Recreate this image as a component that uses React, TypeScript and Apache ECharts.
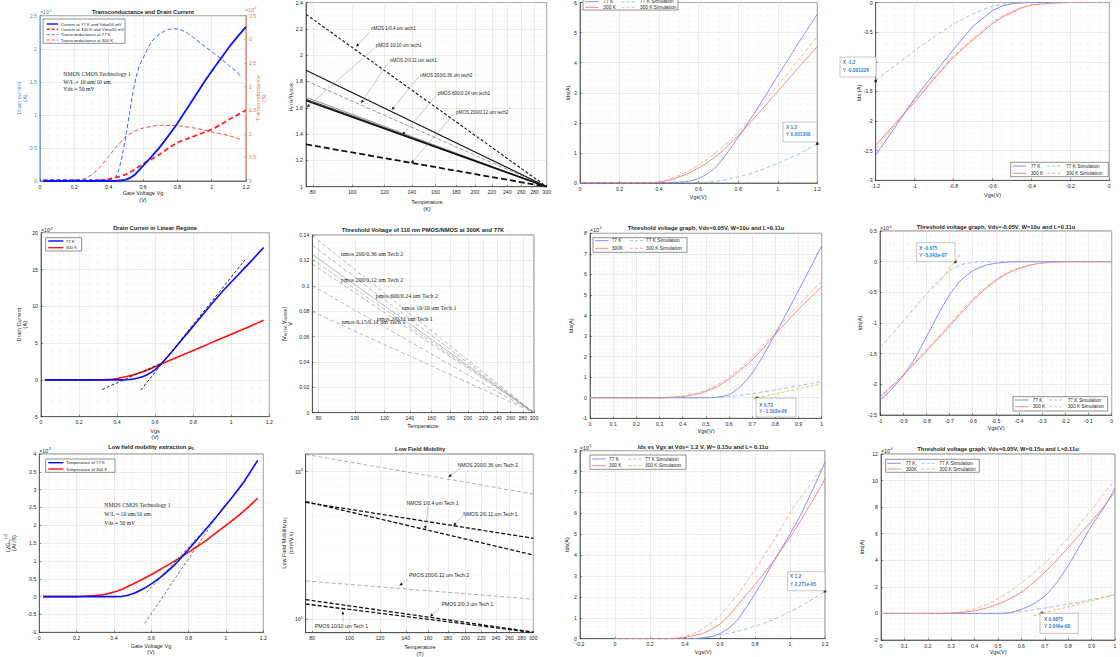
import React, { useEffect, useRef } from "react";
import * as echarts from "echarts";

const SANS = "'Liberation Sans', Arial, Helvetica, sans-serif";
const SERIF = "'Liberation Serif', 'Times New Roman', serif";
const AX = "#262626";
const TIP_BLUE = "#2f7fe0";
const AXBLUE = "#3f8ed2";
const AXORANGE = "#e0784f";
const TICK_FS = 5.2;
const LAB_FS = 5.6;
const TITLE_FS = 5.8;

// ---------- shared ticks ----------
const TEMP_TICKS = [80, 100, 120, 140, 160, 180, 200, 220, 240, 260, 280, 300];
const P10_Y_TICKS = [100, 1000];
const P10_MINOR = [200, 300, 400, 500, 600, 700, 800, 900];

// ---------- Panel 1: Transconductance and Drain Current ----------
const p1Vg = [0.02, 0.1, 0.2, 0.3, 0.35, 0.4, 0.45, 0.5, 0.55, 0.6, 0.65, 0.7, 0.75, 0.8, 0.85, 0.9, 0.95, 1.0, 1.05, 1.1, 1.15, 1.2];
const p1Id77 = [0, 0, 0, 0, 0, 0, 0.004, 0.02, 0.09, 0.23, 0.37, 0.52, 0.69, 0.87, 1.07, 1.27, 1.47, 1.66, 1.84, 2.02, 2.18, 2.33];
const p1Id300 = [0, 0, 0, 0, 0.01, 0.03, 0.06, 0.1, 0.17, 0.26, 0.33, 0.41, 0.5, 0.58, 0.63, 0.68, 0.73, 0.78, 0.85, 0.93, 1.0, 1.07];
const p1GmVg77 = [0.02, 0.1, 0.2, 0.3, 0.4, 0.44, 0.46, 0.48, 0.5, 0.52, 0.54, 0.56, 0.58, 0.6, 0.65, 0.7, 0.75, 0.8, 0.85, 0.9, 0.95, 1.0, 1.05, 1.1, 1.15, 1.17];
const p1Gm77 = [0.03, 0.03, 0.03, 0.03, 0.03, 0.08, 0.25, 0.55, 0.95, 1.4, 1.85, 2.2, 2.45, 2.6, 2.95, 3.12, 3.21, 3.22, 3.15, 3.02, 2.88, 2.74, 2.6, 2.45, 2.3, 2.2];
const p1GmVg300 = [0.02, 0.1, 0.2, 0.25, 0.3, 0.35, 0.4, 0.45, 0.5, 0.55, 0.6, 0.7, 0.8, 0.9, 1.0, 1.1, 1.17];
const p1Gm300 = [0.02, 0.02, 0.02, 0.04, 0.13, 0.3, 0.52, 0.75, 0.94, 1.05, 1.12, 1.18, 1.17, 1.12, 1.04, 0.96, 0.88];

// ---------- Panel 2: mobility ratio ----------
const p2T = [77, 300];
const p2Start = [2.31, 1.885, 1.805, 1.68, 1.665, 1.655, 1.322];
const p2End = [1, 1, 1, 1, 1, 1, 1];

// ---------- Panel 3 ----------
const p3Vgs = [0, 0.1, 0.2, 0.3, 0.35, 0.4, 0.45, 0.5, 0.55, 0.6, 0.65, 0.7, 0.75, 0.8, 0.85, 0.9, 0.95, 1.0, 1.05, 1.1, 1.15, 1.2];
const p3I77 = [0, 0, 0, 0, 0, 0, 0.005, 0.02, 0.06, 0.15, 0.33, 0.62, 1.05, 1.51, 2.0, 2.51, 3.03, 3.56, 4.08, 4.61, 5.11, 5.61];
const p3I300 = [0, 0, 0, 0, 0.01, 0.03, 0.09, 0.2, 0.33, 0.5, 0.71, 0.95, 1.25, 1.57, 1.93, 2.3, 2.67, 3.05, 3.42, 3.8, 4.17, 4.54];
const p3I77Sim = [0, 0, 0, 0, 0, 0, 0, 0, 0, 0.005, 0.03, 0.07, 0.13, 0.2, 0.29, 0.4, 0.52, 0.65, 0.8, 0.95, 1.12, 1.306];
const p3I300Sim = [0, 0, 0, 0, 0.01, 0.04, 0.12, 0.25, 0.4, 0.6, 0.82, 1.08, 1.36, 1.68, 2.05, 2.45, 2.85, 3.25, 3.65, 4.05, 4.46, 4.87];

// ---------- Panel 4 ----------
const p4Vgs = [-1.2, -1.1, -1.0, -0.9, -0.8, -0.7, -0.6, -0.55, -0.5, -0.45, -0.4, -0.3, -0.2, -0.1, 0];
const p4I77 = [-2.575, -2.1, -1.62, -1.2, -0.79, -0.4, -0.135, -0.06, -0.02, -0.005, 0, 0, 0, 0, 0];
const p4I300 = [-2.41, -2.04, -1.68, -1.29, -0.92, -0.63, -0.36, -0.25, -0.17, -0.09, -0.04, -0.01, 0, 0, 0];
const p4I77Sim = [-1.317, -1.06, -0.81, -0.58, -0.36, -0.19, -0.06, -0.03, -0.01, 0, 0, 0, 0, 0, 0];
const p4I300Sim = [-2.47, -2.06, -1.65, -1.27, -0.9, -0.6, -0.33, -0.23, -0.15, -0.08, -0.035, -0.01, 0, 0, 0];

// ---------- Panel 5: Drain current linear regime ----------
const p5Vgs = [0.02, 0.1, 0.2, 0.3, 0.35, 0.4, 0.45, 0.5, 0.55, 0.6, 0.65, 0.7, 0.75, 0.8, 0.85, 0.9, 0.95, 1.0, 1.05, 1.1, 1.17];
const p5I77 = [0, 0, 0, 0, 0, 0, 0.02, 0.2, 0.6, 1.4, 2.7, 4.2, 5.75, 7.3, 8.85, 10.4, 11.9, 13.3, 14.65, 16.0, 18.0];
const p5I300 = [0, 0, 0, 0, 0.05, 0.2, 0.45, 0.8, 1.25, 1.8, 2.35, 2.9, 3.45, 4.0, 4.55, 5.1, 5.65, 6.2, 6.75, 7.3, 8.1];
const p5Tan1X = [0.322, 0.625];
const p5Tan1Y = [-1.31, 2.2];
const p5Tan2X = [0.524, 1.072];
const p5Tan2Y = [-1.4, 16.3];

// ---------- Panel 6: threshold voltage shift ----------
const p6T = [77, 300];
const p6Start = [0.1395, 0.132, 0.1248, 0.1208, 0.117, 0.1, 0.0796];
const p6End = [0, 0, 0, 0, 0, 0, 0];

// ---------- Panel 7 ----------
const p7Vgs = [0, 0.1, 0.2, 0.3, 0.35, 0.4, 0.45, 0.5, 0.55, 0.6, 0.65, 0.7, 0.75, 0.8, 0.85, 0.9, 0.95, 1.0];
const p7I77 = [0, 0, 0, 0, 0, 0, 0, 0.005, 0.03, 0.15, 0.55, 1.2, 2.1, 3.1, 4.15, 5.22, 6.3, 7.39];
const p7I300 = [0, 0, 0, 0, 0.02, 0.06, 0.15, 0.3, 0.55, 0.9, 1.35, 1.85, 2.45, 3.1, 3.7, 4.3, 4.85, 5.4];
const p7I77Sim = [0, 0, 0, 0, 0, 0, 0, 0, 0.01, 0.05, 0.12, 0.2, 0.29, 0.38, 0.48, 0.58, 0.69, 0.8];
const p7I300Sim = [0, 0, 0, 0, 0.03, 0.08, 0.18, 0.36, 0.63, 1.0, 1.45, 1.98, 2.6, 3.25, 3.88, 4.5, 5.1, 5.65];
const p7TanX = [0.7, 1.0];
const p7TanY = [-0.06, 0.68];

// ---------- Panel 8 ----------
const p8Vgs = [-1, -0.95, -0.9, -0.85, -0.8, -0.75, -0.7, -0.65, -0.6, -0.55, -0.5, -0.45, -0.4, -0.35, -0.3, -0.25, -0.2, -0.1, 0];
const p8I77 = [-2.26, -2.08, -1.86, -1.58, -1.23, -0.87, -0.54, -0.3, -0.15, -0.065, -0.025, -0.008, 0, 0, 0, 0, 0, 0, 0];
const p8I300 = [-2.2, -2.03, -1.85, -1.66, -1.46, -1.26, -1.05, -0.84, -0.64, -0.46, -0.31, -0.19, -0.11, -0.055, -0.022, -0.008, 0, 0, 0];
const p8I77Sim = [-1.4, -1.19, -0.97, -0.75, -0.53, -0.32, -0.15, -0.05, -0.012, 0, 0, 0, 0, 0, 0, 0, 0, 0, 0];
const p8I300Sim = [-2.23, -2.04, -1.84, -1.64, -1.43, -1.23, -1.02, -0.81, -0.61, -0.44, -0.29, -0.18, -0.1, -0.05, -0.02, -0.007, 0, 0, 0];
const p8TanX = [-0.755, -0.652];
const p8TanY = [-0.38, 0.12];

// ---------- Panel 9: low field mobility extraction ----------
const p9Vg = [0.02, 0.1, 0.2, 0.3, 0.35, 0.4, 0.45, 0.5, 0.55, 0.6, 0.65, 0.7, 0.75, 0.8, 0.85, 0.9, 0.95, 1.0, 1.05, 1.1, 1.17];
const p9Y77 = [0, 0, 0, 0, 0, 0, 0.01, 0.08, 0.2, 0.36, 0.55, 0.77, 1.03, 1.33, 1.63, 1.94, 2.25, 2.57, 2.9, 3.25, 3.82];
const p9Y300 = [0, 0, 0, 0.03, 0.06, 0.13, 0.22, 0.35, 0.48, 0.62, 0.77, 0.92, 1.08, 1.25, 1.42, 1.6, 1.8, 2.0, 2.2, 2.42, 2.76];
const p9TanAX = [0.565, 1.0];
const p9TanAY = [-0.75, 2.62];
const p9TanBX = [0.575, 0.9];
const p9TanBY = [0.12, 1.95];

// ---------- Panel 10: Low Field Mobility (log-log) ----------
const p10T = [77, 300];
const p10Start = [1310, 628, 620, 182, 136, 127];
const p10End = [706, 273, 354, 137, 82, 81.5];

// ---------- Panel 11 ----------
const p11Vgs = [0, 0.1, 0.2, 0.3, 0.35, 0.4, 0.45, 0.5, 0.55, 0.6, 0.65, 0.7, 0.75, 0.8, 0.85, 0.9, 0.95, 1.0, 1.05, 1.1, 1.15, 1.2];
const p11I77 = [0, 0, 0, 0, 0, 0, 0, 0.03, 0.1, 0.25, 0.5, 0.9, 1.5, 2.15, 2.85, 3.6, 4.3, 5.0, 5.75, 6.6, 7.5, 8.45];
const p11I300 = [0, 0, 0, 0, 0.02, 0.06, 0.14, 0.25, 0.45, 0.7, 1.1, 1.6, 2.1, 2.6, 3.1, 3.65, 4.25, 4.85, 5.5, 6.2, 6.9, 7.65];
const p11I77Sim = [0, 0, 0, 0, 0, 0, 0, 0.05, 0.1, 0.18, 0.26, 0.35, 0.47, 0.6, 0.74, 0.9, 1.08, 1.3, 1.5, 1.75, 2.0, 2.271];
const p11I300Sim = [0, 0, 0, 0, 0.03, 0.1, 0.25, 0.45, 0.75, 1.1, 1.6, 2.1, 2.7, 3.3, 3.95, 4.6, 5.3, 6.05, 6.65, 7.2, 7.8, 8.35];

// ---------- Panel 12 ----------
const p12Vgs = [0, 0.1, 0.2, 0.3, 0.35, 0.4, 0.45, 0.5, 0.55, 0.6, 0.65, 0.7, 0.75, 0.8, 0.85, 0.9, 0.95, 1.0];
const p12I77 = [0, 0, 0, 0, 0, 0, 0, 0, 0.05, 0.3, 0.7, 1.3, 2.3, 3.6, 5.1, 6.6, 7.9, 9.4];
const p12I300 = [0, 0, 0, 0.02, 0.08, 0.2, 0.4, 0.7, 1.1, 1.6, 2.3, 3.1, 4.0, 4.95, 5.95, 6.95, 8.0, 9.15];
const p12I77Sim = [0, 0, 0, 0, 0, 0, 0, 0, 0.05, 0.15, 0.27, 0.4, 0.55, 0.7, 0.87, 1.05, 1.22, 1.4];
const p12I300Sim = [0, 0, 0, 0.03, 0.12, 0.35, 0.68, 1.1, 1.65, 2.3, 3.0, 3.8, 4.7, 5.7, 6.75, 7.8, 8.95, 10.1];
const p12TanX = [0.651, 1.0];
const p12TanY = [-0.18, 1.42];

const zip = (xs: number[], ys: number[]) => xs.map((x, i) => [x, ys[i]]);

function buildOption() {
  const grids: any[] = [];
  const xAxis: any[] = [];
  const yAxis: any[] = [];
  const series: any[] = [];
  const els: any[] = [];

  const addGrid = (r: number[]) => {
    grids.push({ left: r[0], top: r[1], width: r[2] - r[0], height: r[3] - r[1], show: true, borderColor: AX, borderWidth: 0.6, backgroundColor: "#ffffff", containLabel: false });
    return grids.length - 1;
  };
  const base = (color: string) => ({
    axisLine: { show: true, onZero: false, lineStyle: { color, width: 0.6 } },
    axisTick: { show: true, inside: true, length: 2, lineStyle: { color, width: 0.5 } },
    axisLabel: { fontSize: TICK_FS, color, fontFamily: SANS, margin: 3 },
    splitLine: { show: true, lineStyle: { color: "#d9d9d9", width: 0.5 } },
    minorSplitLine: { show: true, lineStyle: { color: "#dedede", width: 0.4, type: [1, 1.2] } },
  });
  const addX = (gi: number, min: number, max: number, interval: number, minorN = 5) => {
    xAxis.push({ type: "value", gridIndex: gi, position: "bottom", min, max, interval, ...base(AX), minorTick: { show: false, splitNumber: minorN } });
    return xAxis.length - 1;
  };
  const addY = (gi: number, min: number, max: number, interval: number, minorN = 5, color = AX, pos = "left", grid = true) => {
    const b: any = base(color);
    if (!grid) {
      b.splitLine = { show: false };
      b.minorSplitLine = { show: false };
    }
    yAxis.push({ type: "value", gridIndex: gi, position: pos, min, max, interval, ...b, minorTick: { show: false, splitNumber: minorN } });
    return yAxis.length - 1;
  };
  const addLogX = (gi: number) => {
    const b: any = base(AX);
    xAxis.push({
      type: "log", logBase: 10, gridIndex: gi, position: "bottom", min: 77, max: 300, ...b,
      axisLabel: { ...b.axisLabel, customValues: TEMP_TICKS, formatter: (v: number) => String(Math.round(v)) },
      axisTick: { ...b.axisTick, customValues: TEMP_TICKS },
      minorSplitLine: { show: false },
    });
    return xAxis.length - 1;
  };
  const line = (xi: number, yi: number, data: number[][], color: string, width: number, type: any = "solid", smooth: any = 0.2, extra: any = {}) => {
    series.push({ type: "line", xAxisIndex: xi, yAxisIndex: yi, data, symbol: "none", showSymbol: false, smooth, lineStyle: { color, width, type }, silent: true, z: 3, ...extra });
  };
  const dot = (xi: number, yi: number, x: number, y: number) => {
    series.push({ type: "scatter", xAxisIndex: xi, yAxisIndex: yi, data: [[x, y]], symbol: "rect", symbolSize: 2.6, itemStyle: { color: "#111" }, silent: true, z: 6 });
  };

  const txt = (x: number, y: number, text: string, o: any = {}) => {
    els.push({
      type: "text", x, y, rotation: o.rot || 0, silent: true, z: 100,
      style: {
        text, fill: o.color || AX, fontSize: o.size || LAB_FS, fontFamily: o.font || SANS, fontWeight: o.bold ? "bold" : "normal",
        align: o.align || "center", verticalAlign: o.va || "middle", textAlign: o.align || "center", textVerticalAlign: o.va || "middle",
        lineHeight: o.lh, rich: o.rich,
      },
    });
  };
  const rect = (x: number, y: number, w: number, h: number, stroke = AX, fill = "#fff", lw = 0.5) => {
    els.push({ type: "rect", silent: true, z: 95, shape: { x, y, width: w, height: h }, style: { fill, stroke, lineWidth: lw } });
  };
  const seg = (x1: number, y1: number, x2: number, y2: number, stroke: string, lw: number, dash?: number[]) => {
    els.push({ type: "line", silent: true, z: 96, shape: { x1, y1, x2, y2 }, style: { stroke, lineWidth: lw, lineDash: dash } });
  };
  const arrow = (x1: number, y1: number, x2: number, y2: number) => {
    const a = Math.atan2(y2 - y1, x2 - x1);
    const L = 3.4, W = 1.4;
    const bx = x2 - L * Math.cos(a), by = y2 - L * Math.sin(a);
    seg(x1, y1, bx, by, "#8c8c8c", 0.5);
    els.push({ type: "polygon", silent: true, z: 97, shape: { points: [[x2, y2], [bx + W * Math.sin(a), by - W * Math.cos(a)], [bx - W * Math.sin(a), by + W * Math.cos(a)]] }, style: { fill: "#111" } });
  };
  const expo = (x: number, y: number, e: string, color = AX) => {
    txt(x, y, "×10", { align: "left", size: TICK_FS, color });
    txt(x + 8.3, y - 1.8, e, { align: "left", size: 3.6, color });
  };
  const title = (x: number, y: number, t: string) => txt(x, y, t, { bold: true, size: TITLE_FS });
  const tipRich = {
    k: { fontSize: 4.8, fill: AX, fontFamily: SANS },
    v: { fontSize: 4.8, fill: TIP_BLUE, fontFamily: SANS, fontWeight: "bold" },
  };
  const tip = (bx: number, by: number, bw: number, bh: number, tx: number, ty1: number, ty2: number, xv: string, yv: string) => {
    rect(bx, by, bw, bh, "#8a8a8a", "#ffffff", 0.5);
    txt(tx, ty1, `{k|X }{v|${xv}}`, { align: "left", rich: tipRich });
    txt(tx, ty2, `{k|Y }{v|${yv}}`, { align: "left", rich: tipRich });
  };
  const SB = "#6b6bff", SR = "#f26b6b", SBD = "#8db0e0", SRD = "#efa089";
  const legend4 = (bx: number, by: number, bw: number, bh: number, r1: number, r2: number, c1: number, t1: number, c2: number, t2: number, lab300: string) => {
    rect(bx, by, bw, bh, AX, "#fff", 0.5);
    const L = 13.5;
    seg(c1, r1, c1 + L, r1, SB, 0.8);
    seg(c2, r1, c2 + L, r1, SBD, 0.8, [3, 2]);
    seg(c1, r2, c1 + L, r2, SR, 0.8);
    seg(c2, r2, c2 + L, r2, SRD, 0.8, [3, 2]);
    const fs = 4.8;
    txt(t1, r1, "77 K", { align: "left", size: fs });
    txt(t2, r1, "77 K Simulation", { align: "left", size: fs });
    txt(t1, r2, lab300, { align: "left", size: fs });
    txt(t2, r2, "300 K Simulation", { align: "left", size: fs });
  };
  const simPanel = (xi: number, yi: number, xs: number[], a77: number[], a300: number[], s77: number[], s300: number[], smooth: any = 0.2) => {
    line(xi, yi, zip(xs, a77), SB, 0.8, "solid", smooth);
    line(xi, yi, zip(xs, a300), SR, 0.8, "solid", smooth);
    line(xi, yi, zip(xs, s77), SBD, 0.8, [4, 2.5], smooth);
    line(xi, yi, zip(xs, s300), SRD, 0.8, [4, 2.5], smooth);
  };
  const subRich = (size = LAB_FS) => ({
    a: { fontSize: size, fill: AX, fontFamily: SANS, lineHeight: size + 2 },
    s: { fontSize: size * 0.7, fill: AX, fontFamily: SANS, verticalAlign: "bottom" },
    p: { fontSize: size * 0.7, fill: AX, fontFamily: SANS, verticalAlign: "top" },
  });

  // ================= Panel 1 =================
  {
    const g = addGrid([40, 15.7, 246, 181]);
    const xi = addX(g, 0, 1.2, 0.2, 4);
    const yl = addY(g, 0, 2.5, 0.5, 5, AXBLUE, "left", true);
    const yr = addY(g, 0, 3.5, 0.5, 5, AXORANGE, "right", false);
    line(xi, yr, zip(p1GmVg77, p1Gm77), "#2050ff", 0.9, [4, 2.5]);
    line(xi, yr, zip(p1GmVg300, p1Gm300), "#ff3030", 0.9, [4, 2.5]);
    line(xi, yl, zip(p1Vg, p1Id300), "#ff2020", 1.8, [5, 3]);
    line(xi, yl, zip(p1Vg, p1Id77), "#0a14ff", 1.8);
    title(143, 11.8, "Transconductance and Drain Current");
    expo(40, 12.3, "-5", AXBLUE);
    expo(245, 10.2, "-4", AXORANGE);
    txt(22, 98, "Drain current\n(A)", { rot: Math.PI / 2, color: AXBLUE, lh: 6.5 });
    txt(261, 98, "Transconductance\n(S)", { rot: Math.PI / 2, color: AXORANGE, lh: 6.5 });
    txt(143, 193, "Gate Voltage Vg");
    txt(143, 200, "(V)");
    rect(43, 19, 82, 24.3);
    const rows = [24, 29.3, 34.7, 40];
    seg(46.7, rows[0], 58.3, rows[0], "#0a14ff", 1.4);
    seg(46.7, rows[1], 58.3, rows[1], "#ff2020", 1.4, [3, 2]);
    seg(46.7, rows[2], 58.3, rows[2], "#2050ff", 0.8, [3, 2]);
    seg(46.7, rows[3], 58.3, rows[3], "#ff3030", 0.8, [3, 2]);
    txt(60.7, rows[0], "Current at 77 K and Vds=50 mV", { align: "left", size: 4.3 });
    txt(60.7, rows[1], "Current at 300 K and Vds=50 mV", { align: "left", size: 4.3 });
    txt(60.7, rows[2], "Transconductance at 77 K", { align: "left", size: 4.3 });
    txt(60.7, rows[3], "Transconductance at 300 K", { align: "left", size: 4.3 });
    txt(63.3, 74, "NMOS CMOS Technology 1", { align: "left", font: SERIF, size: 5.8 });
    txt(63.3, 81.7, "W/L = 10 um/10 um", { align: "left", font: SERIF, size: 5.8 });
    txt(63.3, 89, "Vds = 50 mV", { align: "left", font: SERIF, size: 5.8 });
  }

  // ================= Panel 2 =================
  {
    const g = addGrid([306, 0.5, 546.7, 186.7]);
    const xi = addLogX(g);
    const yi = addY(g, 1, 2.4, 0.2, 4);
    const styles: any[] = [
      { c: "#111", w: 1.1, t: [3, 2] },
      { c: "#111", w: 1.1, t: "solid" },
      { c: "#555", w: 0.6, t: [4, 2] },
      { c: "#9a9a9a", w: 1.1, t: "solid" },
      { c: "#333", w: 1.0, t: "solid" },
      { c: "#111", w: 1.6, t: "solid" },
      { c: "#111", w: 1.8, t: [6, 3] },
    ];
    p2Start.forEach((s, i) => line(xi, yi, zip(p2T, [s, p2End[i]]), styles[i].c, styles[i].w, styles[i].t, false));
    txt(290, 97, "{a|μ}{s|p77K}{a|/μ}{s|p300K}", { rot: Math.PI / 2, rich: subRich() });
    txt(427, 201.7, "Temperature");
    txt(427, 208.5, "(K)");
    const ann: [string, number, number][] = [
      ["nMOS 1/0.4 um tech1", 371, 28.3],
      ["pMOS 10/10 um tech1", 375.7, 45.3],
      ["nMOS 2/0.11 um tech1", 390, 60.7],
      ["nMOS 200/0.36 um tech2", 420, 75],
      ["pMOS 600/0.24 um tech2", 437.7, 93],
      ["pMOS 200/0.12 um tech2", 456, 112],
    ];
    ann.forEach(([t, x, y]) => txt(x, y, t, { align: "left", size: 4.6 }));
    arrow(370, 31.7, 356, 46.7);
    arrow(374.3, 48.3, 306.7, 107.3);
    arrow(387.7, 63.3, 361, 103.3);
    arrow(418.3, 77.3, 391.7, 110);
    arrow(436, 96, 402.3, 135);
    arrow(453.3, 115, 411, 163.3);
  }

  // ================= Panel 3 =================
  {
    const g = addGrid([580, -7.4, 817.3, 183]);
    const xi = addX(g, 0, 1.2, 0.2, 4);
    const yi = addY(g, 0, 6, 1, 5);
    simPanel(xi, yi, p3Vgs, p3I77, p3I300, p3I77Sim, p3I300Sim);
    dot(xi, yi, 1.2, 1.306);
    txt(698, 197, "Vgs(V)");
    txt(568.3, 93, "Ids(A)", { rot: Math.PI / 2 });
    legend4(583, -3, 95, 13, 1.7, 7.3, 585, 603.3, 621.7, 640, "300 K");
    tip(783, 122, 34, 20, 786, 127.3, 134.7, "1.2", "0.001306");
  }

  // ================= Panel 4 =================
  {
    const g = addGrid([875.7, -5.7, 1109.3, 180.3]);
    const xi = addX(g, -1.2, 0, 0.2, 4);
    const yi = addY(g, -3, 0, 0.5, 5);
    simPanel(xi, yi, p4Vgs, p4I77, p4I300, p4I77Sim, p4I300Sim, false);
    dot(xi, yi, -1.2, -1.326);
    txt(992.5, 195, "Vgs(V)");
    txt(859, 93, "Ids (A)", { rot: Math.PI / 2 });
    legend4(1010.7, 162.3, 97.6, 14.4, 166, 173.3, 1012.7, 1030.7, 1047.3, 1066, "300 K");
    tip(840, 57, 36, 20, 842.7, 62.7, 70, "-1.2", "-0.001326");
  }

  // ================= Panel 5 =================
  {
    const g = addGrid([41, 232.7, 269.3, 416.7]);
    const xi = addX(g, 0, 1.2, 0.2, 4);
    const yi = addY(g, -5, 20, 5, 5);
    line(xi, yi, zip(p5Vgs, p5I300), "#ff1010", 1.6);
    line(xi, yi, zip(p5Vgs, p5I77), "#0a0aff", 1.6);
    line(xi, yi, zip(p5Tan1X, p5Tan1Y), "#111", 0.9, [3, 2], false);
    line(xi, yi, zip(p5Tan2X, p5Tan2Y), "#111", 0.9, [3, 2], false);
    title(155, 228.3, "Drain Curren in Linear Regime");
    expo(41, 230.3, "-6");
    txt(22, 324.7, "Drain Current\n(A)", { rot: Math.PI / 2, lh: 6.5 });
    txt(155, 430.5, "Vgs");
    txt(155, 437.3, "(V)");
    rect(45.7, 237.7, 36, 13.3);
    seg(48.3, 241, 63.3, 241, "#0a0aff", 1.4);
    seg(48.3, 247.7, 63.3, 247.7, "#ff1010", 1.4);
    txt(65.7, 241, "77 K", { align: "left", size: 4.4 });
    txt(65.7, 247.7, "300 K", { align: "left", size: 4.4 });
  }

  // ================= Panel 6 =================
  {
    const g = addGrid([312.3, 235, 534, 412.7]);
    const xi = addLogX(g);
    const yi = addY(g, 0, 0.14, 0.02, 4);
    p6Start.forEach((s, i) => line(xi, yi, zip(p6T, [s, p6End[i]]), "#8a8a8a", 0.6, i === 2 ? "solid" : [4, 2.5], false));
    title(423, 229.8, "Threshold Voltage of 110 nm PMOS/NMOS at 300K and 77K");
    txt(283.5, 324, "{a||V}{s|th77K}{a|-V}{s|th300K}{a||}", { rot: Math.PI / 2, rich: subRich() });
    txt(289.5, 324, "V", { rot: Math.PI / 2 });
    txt(423, 426, "Temperature");
    const ann: [string, number, number][] = [
      ["nmos 200/0.36 um Tech 2", 341, 254],
      ["pmos 200/0.12 um Tech 2", 341, 280],
      ["pmos 600/0.24 um Tech 2", 375.7, 295.7],
      ["nmos 10/10 um Tech 1", 401.7, 308.3],
      ["pmos 2/0.11 um Tech 1", 376.7, 318.7],
      ["nmos 0.15/0.11 um Tech 1", 341.7, 322],
    ];
    ann.forEach(([t, x, y]) => txt(x, y, t, { align: "left", size: 6, font: SERIF }));
  }

  // ================= Panel 7 =================
  {
    const g = addGrid([590, 233.3, 821.7, 418.3]);
    const xi = addX(g, 0, 1, 0.1, 5);
    const yi = addY(g, -1, 8, 1, 5);
    simPanel(xi, yi, p7Vgs, p7I77, p7I300, p7I77Sim, p7I300Sim);
    line(xi, yi, zip(p7TanX, p7TanY), "#EDB120", 0.8, [3, 2], false);
    dot(xi, yi, 0.72, -0.0119);
    title(706, 228.3, "Threshold voltage graph, Vds=0.05V, W=10u and L=0.11u");
    expo(590, 230, "-4");
    txt(570.7, 325.8, "Ids(A)", { rot: Math.PI / 2 });
    txt(706, 431, "Vgs(V)");
    legend4(593, 237.7, 94, 14.6, 240.7, 248.3, 595, 611.7, 630, 646, "300K");
    tip(756, 398, 40, 19, 759.3, 405, 411.7, "0.72", "-1.193e-06");
  }

  // ================= Panel 8 =================
  {
    const g = addGrid([880, 231, 1111.7, 415]);
    const xi = addX(g, -1, 0, 0.1, 5);
    const yi = addY(g, -2.5, 0.5, 0.5, 5);
    simPanel(xi, yi, p8Vgs, p8I77, p8I300, p8I77Sim, p8I300Sim);
    line(xi, yi, zip(p8TanX, p8TanY), "#EDB120", 0.8, [3, 2], false);
    dot(xi, yi, -0.675, -0.005);
    title(996, 226.7, "Threshold voltage graph, Vds=-0.05V, W=10u and L=0.11u");
    expo(880, 228.3, "-4");
    txt(860, 323, "Ids(A)", { rot: Math.PI / 2 });
    txt(996, 428.3, "Vgs(V)");
    legend4(1013, 396.7, 94.7, 14.3, 400, 406.7, 1015, 1032.7, 1049, 1067.7, "300 K");
    tip(916.7, 242.7, 38.3, 19, 919.3, 248.3, 255.7, "-0.675", "-5.043e-07");
  }

  // ================= Panel 9 =================
  {
    const g = addGrid([39.3, 454, 263.3, 632.3]);
    const xi = addX(g, 0, 1.2, 0.2, 4);
    const yi = addY(g, -1, 4, 0.5, 5);
    line(xi, yi, zip(p9Vg, p9Y300), "#ff1010", 1.6);
    line(xi, yi, zip(p9Vg, p9Y77), "#0a0aff", 1.6);
    line(xi, yi, zip(p9TanAX, p9TanAY), "#222", 0.6, [3, 2], false);
    line(xi, yi, zip(p9TanBX, p9TanBY), "#222", 0.6, [3, 2], false);
    txt(151, 446.7, "{t|Low field mobility extraction μ}{s|0}", {
      rich: { t: { fontSize: TITLE_FS, fontWeight: "bold", fill: AX, fontFamily: SANS, lineHeight: 7.5 }, s: { fontSize: 4.2, fontWeight: "bold", fill: AX, fontFamily: SANS, verticalAlign: "bottom" } },
    });
    expo(39.3, 451, "-3");
    txt(7.5, 543, "{a|I}{s|d}{a|/G}{s|m}{p|1/2}", { rot: Math.PI / 2, rich: subRich() });
    txt(14, 543, "(A/√S)", { rot: Math.PI / 2 });
    txt(151, 645.7, "Gate Voltage Vg");
    txt(151, 652.3, "(V)");
    rect(45.7, 459, 69.3, 13.3);
    seg(48.3, 462.7, 63.3, 462.7, "#0a0aff", 1.4);
    seg(48.3, 469, 63.3, 469, "#ff1010", 1.4);
    txt(66, 462.7, "Temperature of 77 K", { align: "left", size: 4.3 });
    txt(66, 469, "Temperature of 300 K", { align: "left", size: 4.3 });
    txt(104.3, 505, "NMOS CMOS Technology 1", { align: "left", font: SERIF, size: 5.7 });
    txt(104.3, 514, "W/L = 10 um/10 um", { align: "left", font: SERIF, size: 5.7 });
    txt(104.3, 523.3, "Vds = 50 mV", { align: "left", font: SERIF, size: 5.7 });
  }

  // ================= Panel 10 =================
  {
    const g = addGrid([305.7, 454, 533.3, 632.7]);
    const xi = addLogX(g);
    const b: any = base(AX);
    yAxis.push({
      type: "log", logBase: 10, gridIndex: g, position: "left", min: 81.2, max: 1318, ...b,
      axisLabel: {
        ...b.axisLabel, customValues: P10_Y_TICKS,
        formatter: (v: number) => (v < 500 ? "{b|10}{s|2}" : "{b|10}{s|3}"),
        rich: { b: { fontSize: TICK_FS, color: AX, fontFamily: SANS, lineHeight: 7.5 }, s: { fontSize: 3.6, color: AX, fontFamily: SANS, verticalAlign: "top" } },
      },
      axisTick: { ...b.axisTick, customValues: P10_Y_TICKS },
      minorSplitLine: { show: false },
    });
    const yi = yAxis.length - 1;
    const styles: any[] = [
      { c: "#777", w: 0.6, t: [4, 2.5] },
      { c: "#111", w: 1.3, t: [4, 2] },
      { c: "#111", w: 1.3, t: [4, 2] },
      { c: "#777", w: 0.6, t: [4, 2.5] },
      { c: "#111", w: 1.3, t: [4, 2] },
      { c: "#111", w: 1.3, t: [4, 2] },
    ];
    p10Start.forEach((s, i) =>
      line(xi, yi, zip(p10T, [s, p10End[i]]), styles[i].c, styles[i].w, styles[i].t, false,
        i === 0 ? { markLine: { silent: true, symbol: ["none", "none"], label: { show: false }, lineStyle: { color: "#dedede", width: 0.4, type: [1, 1.2] }, data: P10_MINOR.map((v) => ({ yAxis: v })), animation: false } } : {})
    );
    title(420, 449, "Low Field Mobility");
    txt(283.5, 543, "{a|Low Field Mobility μ}{s|0}", { rot: Math.PI / 2, rich: subRich() });
    txt(290.5, 543, "(cm²/V.s)", { rot: Math.PI / 2 });
    txt(420, 646.7, "Temperature");
    txt(420, 654.3, "(T)");
    const ann: [string, number, number][] = [
      ["NMOS 200/0.36 um Tech 2", 457.7, 465],
      ["NMOS 1/0.4 um Tech 1", 406.7, 503.3],
      ["NMOS 2/0.11 um Tech 1", 463.3, 514],
      ["PMOS 200/0.12 um Tech 2", 409, 575],
      ["PMOS 2/0.3 um Tech 1", 441.7, 604],
      ["PMOS 10/10 um Tech 1", 315, 625.7],
    ];
    ann.forEach(([t, x, y]) => txt(x, y, t, { align: "left", size: 5 }));
    arrow(460, 468.3, 448.3, 477.3);
    arrow(428.3, 506.7, 425, 529.3);
    arrow(462.7, 516, 453.3, 525.7);
    arrow(408.3, 579, 399.3, 585.7);
    arrow(439, 608.3, 430, 616.7);
    arrow(343.3, 621.7, 342.7, 611);
  }

  // ================= Panel 11 =================
  {
    const g = addGrid([580, 450.7, 825, 638.7]);
    const xi = addX(g, -0.2, 1.2, 0.2, 4);
    const yi = addY(g, 0, 9, 1, 5);
    simPanel(xi, yi, p11Vgs, p11I77, p11I300, p11I77Sim, p11I300Sim);
    dot(xi, yi, 1.2, 2.271);
    title(703, 446.7, "Ids vs Vgs at Vds= 1.2 V, W= 0.15u and L= 0.11u");
    expo(580, 447.5, "-5");
    txt(567, 544.7, "Ids(A)", { rot: Math.PI / 2 });
    txt(703, 651.7, "Vgs(V)");
    legend4(590, 455, 96, 14.3, 459, 465.7, 592.3, 609, 628.3, 645, "300 K");
    tip(787.7, 571.7, 37.3, 19, 790, 576.7, 584, "1.2", "2.271e-05");
  }

  // ================= Panel 12 =================
  {
    const g = addGrid([881, 454, 1115, 640]);
    const xi = addX(g, 0, 1, 0.1, 5);
    const yi = addY(g, -2, 12, 2, 5);
    simPanel(xi, yi, p12Vgs, p12I77, p12I300, p12I77Sim, p12I300Sim);
    line(xi, yi, zip(p12TanX, p12TanY), "#EDB120", 0.8, [3, 2], false);
    dot(xi, yi, 0.6875, 0.0305);
    title(998, 449, "Threshold voltage graph, Vds=0.05V, W=0.15u and L=0.11u");
    expo(881, 451, "-6");
    txt(862, 547, "Ids(A)", { rot: Math.PI / 2 });
    txt(998, 652, "Vgs(V)");
    legend4(885.7, 459.3, 93.6, 13, 463.3, 469, 887.3, 905.7, 921.7, 939.3, "300K");
    tip(1040, 613.3, 38.3, 20, 1044, 619.3, 626.7, "0.6875", "3.049e-08");
  }

  return {
    animation: false,
    backgroundColor: "#ffffff",
    textStyle: { fontFamily: SANS },
    grid: grids,
    xAxis,
    yAxis,
    series,
    graphic: { elements: els },
  };
}

export default function App() {
  const ref = useRef<HTMLDivElement>(null);
  useEffect(() => {
    if (!ref.current) return;
    const chart = echarts.init(ref.current, null, { renderer: "svg" });
    chart.setOption(buildOption());
    return () => chart.dispose();
  }, []);
  return <div ref={ref} style={{ position: "absolute", left: 0, top: 0, width: 1120, height: 657, background: "#fff" }} />;
}
